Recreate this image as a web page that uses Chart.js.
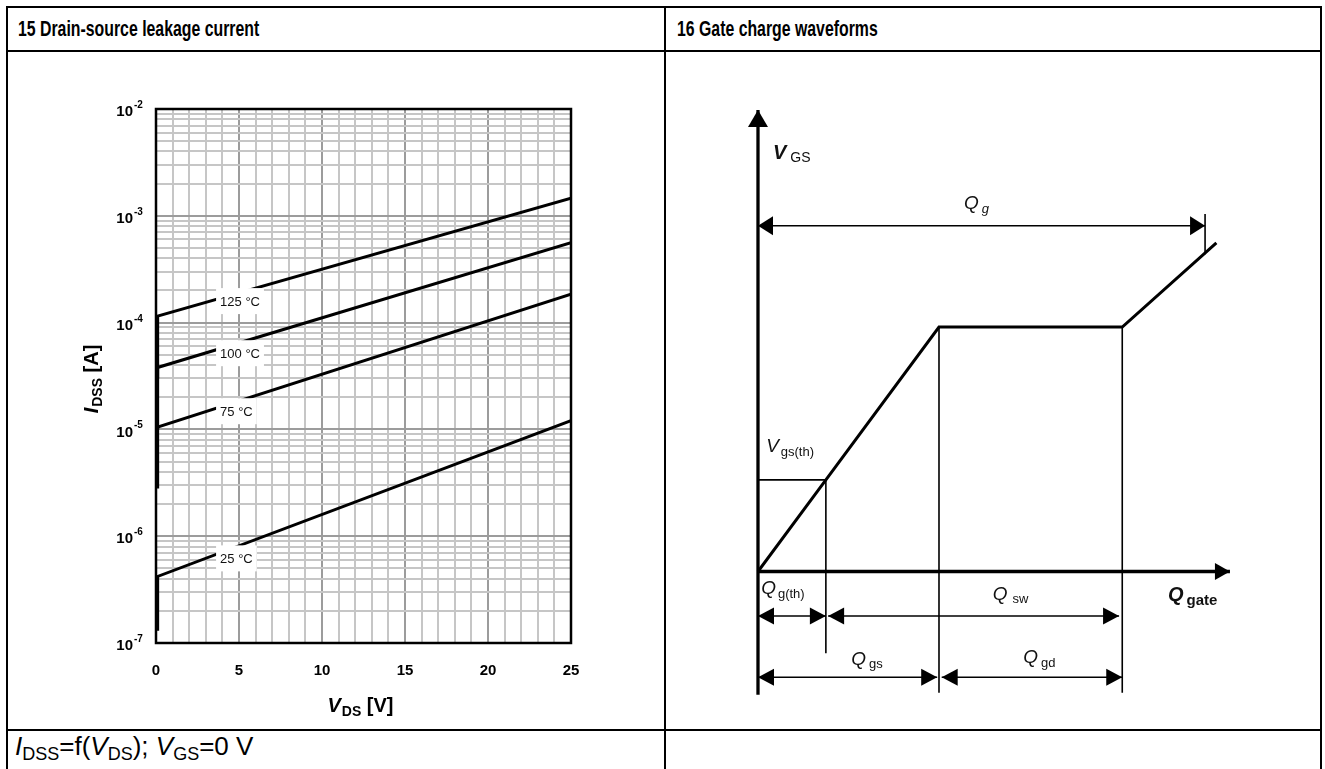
<!DOCTYPE html>
<html><head><meta charset="utf-8">
<script src="https://cdn.jsdelivr.net/npm/chart.js@4/dist/chart.umd.min.js"></script>
<style>
html,body{margin:0;padding:0;background:#fff;}
body{width:1325px;height:769px;position:relative;overflow:hidden;font-family:"Liberation Sans",Arial,sans-serif;color:#000;}
.ln{position:absolute;background:#000;}
.hdr{position:absolute;top:16px;font-weight:bold;font-size:22px;line-height:26px;transform-origin:0 0;transform:scaleX(0.72);white-space:nowrap;}
.ftr{position:absolute;left:15px;top:732px;font-size:26px;line-height:28px;white-space:nowrap;}
.ftr sub{font-size:18px;vertical-align:-5px;line-height:0;}
canvas{position:absolute;}
</style></head>
<body>
<div class="ln" style="left:6px;top:6px;width:1316px;height:2px"></div>
<div class="ln" style="left:6px;top:50px;width:1316px;height:2px"></div>
<div class="ln" style="left:6px;top:729px;width:1316px;height:2px"></div>
<div class="ln" style="left:6px;top:6px;width:2px;height:763px"></div>
<div class="ln" style="left:664px;top:6px;width:2px;height:763px"></div>
<div class="ln" style="left:1320px;top:6px;width:2px;height:763px"></div>
<div class="hdr" style="left:18px">15 Drain-source leakage current</div>
<div class="hdr" style="left:677px">16 Gate charge waveforms</div>
<div class="ftr"><i>I</i><sub>DSS</sub>=f(<i>V</i><sub>DS</sub>); <i>V</i><sub>GS</sub>=0 V</div>
<canvas id="leak" width="656" height="678" style="left:8px;top:52px"></canvas>
<canvas id="gate" width="654" height="678" style="left:666px;top:52px"></canvas>
<script>
// ---------- Data: drain-source leakage ----------
const seriesNames = ['25 °C', '75 °C', '100 °C', '125 °C'];
const vdsPoints = [0.1, 0.1, 25];
const idss25 = [1.3e-7, 4.2e-7, 1.21e-5];
const idss75 = [2.8e-6, 1.05e-5, 1.85e-4];
const idss100 = [1.0e-5, 3.8e-5, 5.6e-4];
const idss125 = [3.0e-5, 1.15e-4, 1.46e-3];
const yExponents = [-7, -6, -5, -4, -3, -2];
const yTickBase = '10';
const yTickExpLabels = ['-7', '-6', '-5', '-4', '-3', '-2'];
const xTickLabels = ['0', '5', '10', '15', '20', '25'];
const labelV = [3.86, 3.86, 3.86, 3.86];
const labelI = [6.2e-7, 1.48e-5, 5.17e-5, 1.59e-4];

// ---------- Data: gate charge waveforms (schematic units) ----------
const waveQ = [0, 1.5, 4.0, 8.05, 10.13];
const waveV = [0, 1.875, 5.0, 5.0, 6.72];
const vgsAxisQ = [0, 0], vgsAxisV = [-2.52, 9.44];
const qAxisQ = [0, 10.43], qAxisV = [0, 0];
const vthLineQ = [0, 1.5], vthLineV = [1.875, 1.875];
const qthDropQ = [1.5, 1.5], qthDropV = [1.875, -1.67];
const qgsDropQ = [4.0, 4.0], qgsDropV = [5.0, -2.48];
const qswDropQ = [8.05, 8.05], qswDropV = [5.0, -2.48];
const qgTickQ = [9.88, 9.88], qgTickV = [7.31, 6.49];
const qgArrowQ = [0, 9.88], qgArrowV = [7.07, 7.07];
const qthArrowQ = [0, 1.5], qthArrowV = [-0.91, -0.91];
const qswArrowQ = [1.55, 7.98], qswArrowV = [-0.91, -0.91];
const qgsArrowQ = [0, 3.96], qgsArrowV = [-2.16, -2.16];
const qgdArrowQ = [4.06, 8.05], qgdArrowV = [-2.16, -2.16];
const gcMain = ['V', 'Q', 'V', 'Q', 'Q', 'Q', 'Q', 'Q'];
const gcSub = ['GS', 'g', 'gs(th)', 'g(th)', 'sw', 'gate', 'gs', 'gd'];
const gcLabelQ = [0.33, 4.55, 0.18, 0.07, 5.19, 9.06, 2.06, 5.86];
const gcLabelV = [8.43, 7.41, 2.44, -0.46, -0.58, -0.60, -1.91, -1.87];

const FAM = '"Liberation Sans", Arial, sans-serif';
Chart.defaults.font.family = FAM;
Chart.defaults.color = '#000';

function pts(xs, ys) { return xs.map((x, i) => ({x: x, y: ys[i]})); }

const yGridValues = [];
yExponents.forEach(e => {
  if (e === yExponents[yExponents.length - 1]) { yGridValues.push(Math.pow(10, e)); return; }
  for (let k = 1; k <= 9; k++) yGridValues.push(+(k * Math.pow(10, e)).toPrecision(6));
});
function isDecade(v) { const l = Math.log10(v); return Math.abs(l - Math.round(l)) < 1e-9; }

function drawParts(ctx, parts, x, y, align) {
  let total = 0;
  parts.forEach(p => { ctx.font = p.font; p.w = ctx.measureText(p.t).width; total += p.w + (p.gap || 0); });
  let cx = align === 'center' ? x - total / 2 : x;
  parts.forEach(p => {
    ctx.font = p.font;
    cx += (p.gap || 0);
    ctx.fillText(p.t, cx, y + (p.dy || 0));
    cx += p.w;
  });
}

const leakPlugin = {
  id: 'leakDecor',
  afterDatasetsDraw(chart) {
    const ctx = chart.ctx, xs = chart.scales.x, ys = chart.scales.y;
    ctx.save();
    ctx.font = '13px ' + FAM;
    ctx.textBaseline = 'middle';
    seriesNames.forEach((name, i) => {
      const x = xs.getPixelForValue(labelV[i]);
      const y = ys.getPixelForValue(labelI[i]);
      const w = ctx.measureText(name).width;
      ctx.fillStyle = '#fff';
      ctx.fillRect(x - 4, y - 13, w + 8, 26);
      ctx.fillStyle = '#111';
      ctx.fillText(name, x, y + 1);
    });
    ctx.restore();
  },
  afterDraw(chart) {
    const ctx = chart.ctx, a = chart.chartArea, ys = chart.scales.y;
    ctx.save();
    ctx.strokeStyle = '#000';
    ctx.lineWidth = 2.5;
    ctx.strokeRect(a.left, a.top, a.right - a.left, a.bottom - a.top);
    ctx.fillStyle = '#000';
    ctx.font = 'bold 10px ' + FAM;
    ctx.textBaseline = 'alphabetic';
    ctx.textAlign = 'left';
    yExponents.forEach((e, i) => {
      const y = ys.getPixelForValue(Math.pow(10, e));
      ctx.fillText(yTickExpLabels[i], a.left - 22, y - 1);
    });
    // x title
    drawParts(ctx, [
      {t: 'V', font: 'italic bold 20px ' + FAM},
      {t: 'DS', font: 'bold 14px ' + FAM, dy: 4, gap: 1},
      {t: ' [V]', font: 'bold 20px ' + FAM}
    ], (a.left + a.right) / 2 - 3, 660, 'center');
    // y title
    ctx.translate(90, (a.top + a.bottom) / 2 + 3);
    ctx.rotate(-Math.PI / 2);
    drawParts(ctx, [
      {t: 'I', font: 'italic bold 20px ' + FAM},
      {t: 'DSS', font: 'bold 14px ' + FAM, dy: 4, gap: 1},
      {t: ' [A]', font: 'bold 20px ' + FAM}
    ], 0, 0, 'center');
    ctx.restore();
  }
};

const lineStyle = {borderColor: '#000', borderWidth: 3, pointRadius: 0, tension: 0, fill: false};
new Chart(document.getElementById('leak'), {
  type: 'line',
  data: {
    datasets: [
      Object.assign({label: seriesNames[0], data: pts(vdsPoints, idss25)}, lineStyle),
      Object.assign({label: seriesNames[1], data: pts(vdsPoints, idss75)}, lineStyle),
      Object.assign({label: seriesNames[2], data: pts(vdsPoints, idss100)}, lineStyle),
      Object.assign({label: seriesNames[3], data: pts(vdsPoints, idss125)}, lineStyle)
    ]
  },
  options: {
    responsive: false, animation: false, devicePixelRatio: 1,
    layout: {padding: {left: 60, right: 93, top: 57, bottom: 0}},
    plugins: {legend: {display: false}, tooltip: {enabled: false}},
    scales: {
      x: {
        type: 'linear', min: 0, max: 25,
        afterFit(s) { s.height = 87; },
        border: {display: false},
        grid: {
          drawTicks: false,
          color: c => (c.tick && c.tick.value % 5 === 0) ? '#9c9c9c' : '#c6c6c6',
          lineWidth: 2
        },
        ticks: {
          stepSize: 1, autoSkip: false, maxRotation: 0, padding: 19,
          font: {size: 15, weight: 'bold'},
          callback: v => (v % 5 === 0) ? xTickLabels[v / 5] : ''
        }
      },
      y: {
        type: 'logarithmic', min: 1e-7, max: 1e-2,
        afterFit(s) { s.width = 88; },
        afterBuildTicks(axis) { axis.ticks = yGridValues.map(v => ({value: v, major: isDecade(v)})); },
        border: {display: false},
        grid: {
          drawTicks: false,
          color: c => (c.tick && c.tick.major) ? '#9c9c9c' : '#c6c6c6',
          lineWidth: 2
        },
        ticks: {
          autoSkip: false, padding: 23, labelOffset: 3,
          font: {size: 15, weight: 'bold'},
          callback: v => isDecade(v) ? yTickBase : ''
        }
      }
    }
  },
  plugins: [leakPlugin]
});

// ---------- Gate charge chart ----------
function seg(qs, vs, width, arrow) {
  return Object.assign({data: pts(qs, vs), showLine: true, borderColor: '#000', borderWidth: width,
    pointRadius: 0, tension: 0, fill: false, clip: false, borderCapStyle: 'butt'}, arrow ? {arrow: arrow} : {});
}
const gatePlugin = {
  id: 'gateDecor',
  afterDatasetsDraw(chart) {
    const ctx = chart.ctx;
    ctx.save();
    ctx.fillStyle = '#000';
    chart.data.datasets.forEach((ds, i) => {
      if (!ds.arrow) return;
      const d = chart.getDatasetMeta(i).data;
      const p0 = d[0], p1 = d[d.length - 1];
      const head = (tip, from) => {
        const ang = Math.atan2(tip.y - from.y, tip.x - from.x);
        ctx.save(); ctx.translate(tip.x, tip.y); ctx.rotate(ang);
        ctx.beginPath(); ctx.moveTo(0, 0); ctx.lineTo(-ds.arrow.len, -ds.arrow.hw); ctx.lineTo(-ds.arrow.len, ds.arrow.hw);
        ctx.closePath(); ctx.fill(); ctx.restore();
      };
      if (ds.arrow.end) head(p1, p0);
      if (ds.arrow.start) head(p0, p1);
    });
    ctx.restore();
  },
  afterDraw(chart) {
    const ctx = chart.ctx, xs = chart.scales.x, ys = chart.scales.y;
    const styles = [
      {m: 'italic bold 20px ', s: '14px ', gap: 4, dy: 3},
      {m: 'italic 19px ', s: 'italic 13px ', gap: 3, dy: 4},
      {m: 'italic 19px ', s: '13px ', gap: 2, dy: 4},
      {m: 'italic 19px ', s: '13px ', gap: 2, dy: 4},
      {m: 'italic 19px ', s: '13px ', gap: 5, dy: 3},
      {m: 'italic bold 20px ', s: 'bold 15px ', gap: 3, dy: 4},
      {m: 'italic 19px ', s: '13px ', gap: 3, dy: 3},
      {m: 'italic 19px ', s: '13px ', gap: 3, dy: 4}
    ];
    ctx.save();
    ctx.fillStyle = '#111';
    ctx.textBaseline = 'alphabetic';
    gcMain.forEach((m, i) => {
      const st = styles[i];
      drawParts(ctx, [
        {t: m, font: st.m + FAM},
        {t: gcSub[i], font: st.s + FAM, gap: st.gap, dy: st.dy}
      ], xs.getPixelForValue(gcLabelQ[i]), ys.getPixelForValue(gcLabelV[i]), 'left');
    });
    ctx.restore();
  }
};
new Chart(document.getElementById('gate'), {
  type: 'scatter',
  data: {
    datasets: [
      seg(vthLineQ, vthLineV, 1.6),
      seg(qthDropQ, qthDropV, 1.6),
      seg(qgsDropQ, qgsDropV, 1.6),
      seg(qswDropQ, qswDropV, 1.6),
      seg(qgTickQ, qgTickV, 1.6),
      seg(qgArrowQ, qgArrowV, 1.5, {start: true, end: true, len: 15, hw: 9.5}),
      seg(qthArrowQ, qthArrowV, 1.5, {start: true, end: true, len: 16, hw: 8.5}),
      seg(qswArrowQ, qswArrowV, 1.5, {start: true, end: true, len: 16, hw: 8.5}),
      seg(qgsArrowQ, qgsArrowV, 1.5, {start: true, end: true, len: 16, hw: 8.5}),
      seg(qgdArrowQ, qgdArrowV, 1.5, {start: true, end: true, len: 16, hw: 8.5}),
      seg(vgsAxisQ, vgsAxisV, 3.3, {end: true, len: 17, hw: 10}),
      seg(qAxisQ, qAxisV, 3.3, {end: true, len: 15, hw: 8.5}),
      seg(waveQ, waveV, 3)
    ]
  },
  options: {
    responsive: false, animation: false, devicePixelRatio: 1,
    layout: {padding: 0},
    plugins: {legend: {display: false}, tooltip: {enabled: false}},
    scales: {
      x: {type: 'linear', display: false, min: -2.033, max: 12.42},
      y: {type: 'linear', display: false, min: -3.241, max: 10.624}
    }
  },
  plugins: [gatePlugin]
});
</script>
</body></html>
